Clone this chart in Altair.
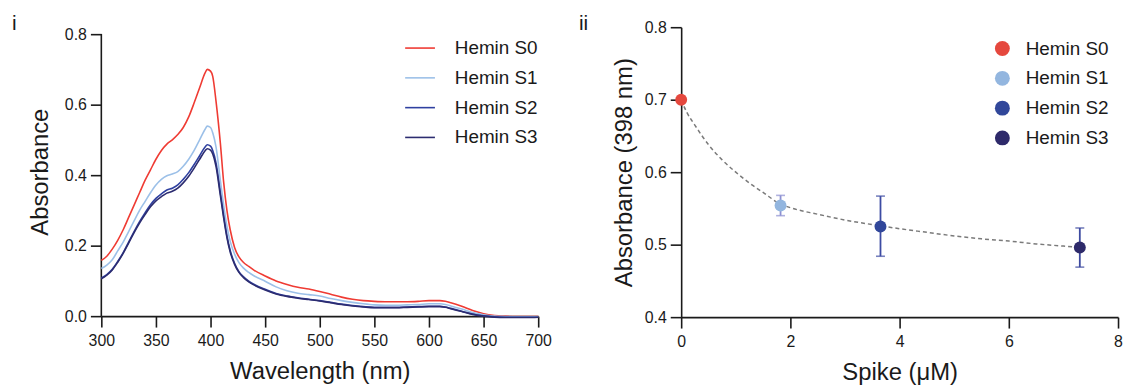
import altair as alt
import pandas as pd

FONT = "Liberation Sans"
INK = "#1a1a1a"

series = ["Hemin S0", "Hemin S1", "Hemin S2", "Hemin S3"]

wavelength = [300, 305, 310, 315, 320, 325, 330, 335, 340, 345, 350, 355, 360, 365, 370, 375,
              380, 385, 390, 395, 397, 400, 402, 405, 409, 412, 415, 418, 422, 426, 430, 435,
              440, 450, 460, 470, 480, 490, 500, 510, 520, 530, 540, 550, 560, 570, 580, 590,
              600, 610, 615, 620, 630, 640, 650, 660, 670, 680, 690, 700]

abs_s0 = [0.158, 0.170, 0.190, 0.215, 0.245, 0.280, 0.315, 0.350, 0.385, 0.415, 0.445, 0.470,
          0.488, 0.500, 0.515, 0.535, 0.565, 0.605, 0.648, 0.690, 0.700, 0.695, 0.680, 0.610,
          0.490, 0.380, 0.300, 0.245, 0.195, 0.168, 0.153, 0.141, 0.130, 0.114, 0.100, 0.090,
          0.082, 0.077, 0.070, 0.062, 0.054, 0.048, 0.044, 0.042, 0.041, 0.041, 0.041, 0.042,
          0.044, 0.044, 0.042, 0.038, 0.028, 0.016, 0.007, 0.002, 0.000, -0.001, -0.001, -0.001]

abs_s1 = [0.135, 0.145, 0.160, 0.185, 0.210, 0.240, 0.270, 0.300, 0.325, 0.350, 0.372, 0.388,
          0.398, 0.403, 0.410, 0.425, 0.445, 0.470, 0.500, 0.530, 0.539, 0.535, 0.520, 0.480,
          0.385, 0.315, 0.255, 0.212, 0.176, 0.152, 0.137, 0.124, 0.114, 0.099, 0.083, 0.072,
          0.065, 0.061, 0.057, 0.050, 0.044, 0.039, 0.035, 0.032, 0.031, 0.031, 0.032, 0.033,
          0.035, 0.035, 0.033, 0.029, 0.020, 0.010, 0.004, 0.000, -0.001, -0.002, -0.002, -0.002]

abs_s2 = [0.108, 0.118, 0.133, 0.155, 0.180, 0.210, 0.240, 0.268, 0.293, 0.316, 0.334, 0.347,
          0.358, 0.363, 0.372, 0.388, 0.407, 0.430, 0.455, 0.480, 0.486, 0.482, 0.470, 0.435,
          0.350, 0.285, 0.228, 0.186, 0.150, 0.126, 0.112, 0.099, 0.090, 0.076, 0.064, 0.057,
          0.052, 0.048, 0.044, 0.039, 0.034, 0.030, 0.027, 0.025, 0.025, 0.025, 0.026, 0.027,
          0.028, 0.028, 0.026, 0.022, 0.014, 0.006, 0.001, -0.002, -0.003, -0.003, -0.003, -0.003]

abs_s3 = [0.106, 0.116, 0.131, 0.153, 0.178, 0.207, 0.237, 0.264, 0.288, 0.310, 0.327, 0.339,
          0.349, 0.354, 0.363, 0.378, 0.397, 0.420, 0.445, 0.469, 0.475, 0.471, 0.460, 0.425,
          0.342, 0.279, 0.223, 0.182, 0.147, 0.124, 0.110, 0.097, 0.088, 0.074, 0.063, 0.056,
          0.051, 0.047, 0.043, 0.038, 0.033, 0.029, 0.026, 0.024, 0.024, 0.024, 0.025, 0.026,
          0.027, 0.027, 0.025, 0.021, 0.013, 0.005, 0.000, -0.003, -0.004, -0.004, -0.004, -0.003]

line_colors = ["#ef3b33", "#9cc0e8", "#2f40a0", "#2c2c70"]

# panel ii
spike_um = [0.0, 1.82, 3.65, 7.3]
abs398 = [0.700, 0.554, 0.525, 0.496]
err_lo = [0.700, 0.540, 0.484, 0.469]
err_hi = [0.700, 0.568, 0.567, 0.523]
point_colors = ["#e5483e", "#93b6df", "#31479a", "#2e2a6a"]
err_colors = ["#e5483e", "#8d90d2", "#3d4ba3", "#3d4aa0"]

fit_x = [0.0, 0.1, 0.25, 0.5, 0.75, 1.0, 1.25, 1.5, 1.82, 2.0, 2.5, 3.0, 3.65, 4.0, 4.5, 5.0,
         5.5, 6.0, 6.5, 7.0, 7.3]
fit_y = [0.700, 0.683, 0.665, 0.638, 0.617, 0.600, 0.585, 0.572, 0.556, 0.551, 0.542, 0.534,
         0.526, 0.522, 0.517, 0.512, 0.508, 0.505, 0.501, 0.498, 0.496]

# ---------- tables ----------
rows = []
for name, vals in zip(series, [abs_s0, abs_s1, abs_s2, abs_s3]):
    for w, a in zip(wavelength, vals):
        rows.append({"wavelength": w, "absorbance": a, "series": name})
spec = pd.DataFrame(rows)

pts = pd.DataFrame({"spike": spike_um, "abs": abs398, "lo": err_lo, "hi": err_hi,
                    "series": series})
errs = pts[pts["series"] != "Hemin S0"]
fit = pd.DataFrame({"x": fit_x, "y": fit_y})

# ---------- panel i ----------
xsi = alt.Scale(domain=[300, 700], nice=False, zero=False)
ysi = alt.Scale(domain=[0, 0.8195], nice=False)
xi = alt.X("wavelength:Q", title="Wavelength (nm)", scale=xsi,
           axis=alt.Axis(values=list(range(300, 701, 50)), format="d"))
yi = alt.Y("absorbance:Q", title="Absorbance", scale=ysi,
           axis=alt.Axis(values=[0, 0.2, 0.4, 0.6, 0.8], format=".1f", titlePadding=12,
                         domain=False))

lines = alt.Chart(spec).mark_line(strokeWidth=1.6, interpolate="monotone").encode(
    x=xi, y=yi,
    color=alt.Color("series:N", scale=alt.Scale(domain=series, range=line_colors),
                    legend=alt.Legend(title=None, orient="none", legendX=305, legendY=5,
                                      symbolType="stroke", symbolSize=900,
                                      symbolStrokeWidth=1.6, labelFontSize=19,
                                      labelOffset=19, rowPadding=4, labelColor=INK,
                                      labelFont=FONT)),
    detail="series:N",
)

# y-axis line of panel i (0 to 0.8)
yaxis_line = alt.Chart(pd.DataFrame({"k": [0]})).mark_rule(color=INK, strokeWidth=1.6).encode(
    x=alt.value(0), y=alt.datum(0.8, scale=ysi), y2=alt.datum(0))

lab_i = alt.Chart(pd.DataFrame({"t": ["i"]})).mark_text(
    align="left", baseline="alphabetic", fontSize=21, font=FONT, color=INK
).encode(text="t:N", x=alt.value(-90), y=alt.value(3))

left = alt.layer(yaxis_line, lines, lab_i).properties(width=440, height=291)

# ---------- panel ii ----------
xs = alt.Scale(domain=[0, 8], nice=False)
ys = alt.Scale(domain=[0.4, 0.8], nice=False)
xax = alt.Axis(values=[0, 2, 4, 6, 8], format="d")
yax = alt.Axis(values=[0.4, 0.5, 0.6, 0.7, 0.8], format=".1f", titlePadding=8)

fit_line = alt.Chart(fit).mark_line(strokeDash=[4, 3], strokeWidth=1.5, color="#7a7a7a",
                                    interpolate="monotone").encode(
    x=alt.X("x:Q", title="Spike (μM)", scale=xs, axis=xax),
    y=alt.Y("y:Q", title="Absorbance (398 nm)", scale=ys, axis=yax),
)

ecol = alt.Color("series:N", scale=alt.Scale(domain=series, range=err_colors), legend=None)
err_rule = alt.Chart(errs).mark_rule(strokeWidth=1.8).encode(
    x=alt.X("spike:Q", scale=xs), y=alt.Y("lo:Q", scale=ys), y2="hi:Q", color=ecol)
cap_lo = alt.Chart(errs).mark_tick(orient="horizontal", size=9, thickness=1.6).encode(
    x=alt.X("spike:Q", scale=xs), y=alt.Y("lo:Q", scale=ys), color=ecol)
cap_hi = alt.Chart(errs).mark_tick(orient="horizontal", size=9, thickness=1.6).encode(
    x=alt.X("spike:Q", scale=xs), y=alt.Y("hi:Q", scale=ys), color=ecol)

points = alt.Chart(pts).mark_circle(size=144, opacity=1).encode(
    x=alt.X("spike:Q", scale=xs), y=alt.Y("abs:Q", scale=ys),
    color=alt.Color("series:N", scale=alt.Scale(domain=series, range=point_colors),
                    legend=alt.Legend(title=None, orient="none", legendX=314, legendY=12,
                                      symbolType="circle", symbolSize=225, symbolOpacity=1,
                                      labelFontSize=19, labelOffset=14, rowPadding=10,
                                      labelColor=INK, labelFont=FONT)),
)

lab_ii = alt.Chart(pd.DataFrame({"t": ["ii"]})).mark_text(
    align="left", baseline="alphabetic", fontSize=21, font=FONT, color=INK
).encode(text="t:N", x=alt.value(-103), y=alt.value(3))

right = alt.layer(fit_line, err_rule, cap_lo, cap_hi, points, lab_ii).resolve_scale(
    color="independent").properties(width=440, height=292)

chart = alt.hconcat(left, right, spacing=27).resolve_scale(color="independent").properties(
    padding={"left": 4, "top": 4, "right": 0, "bottom": 0}
).configure_view(stroke=None).configure_axis(
    grid=False, domainColor=INK, domainWidth=1.6, tickColor=INK, tickWidth=1.6, tickSize=11,
    labelFontSize=16, labelColor=INK, labelFont=FONT, labelPadding=4, labelFlush=False,
    titleFontSize=24, titleFontWeight="normal", titleColor=INK, titleFont=FONT,
).configure_axisX(labelPadding=6, titlePadding=11).configure_text(font=FONT)

chart.save("out.html", embed_options={"renderer": "svg", "actions": False})
